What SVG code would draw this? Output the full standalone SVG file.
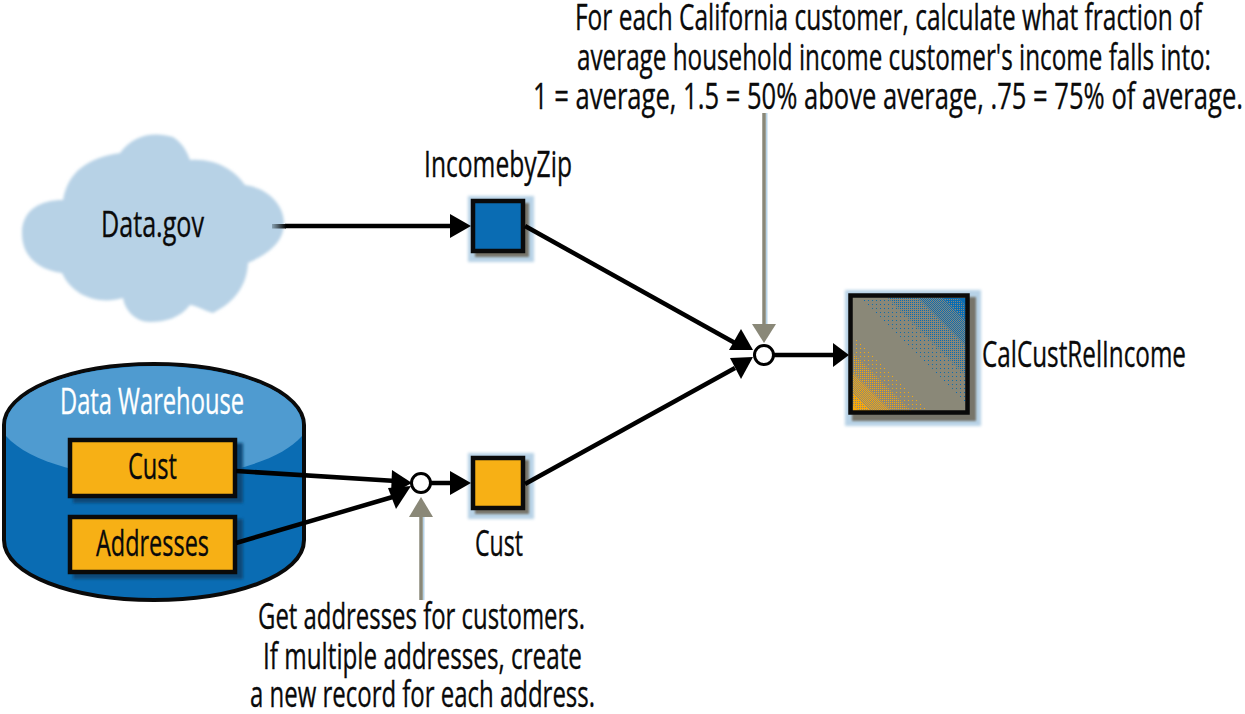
<svg xmlns="http://www.w3.org/2000/svg" width="1245" height="714" viewBox="0 0 1245 714">
<style>
text{font-family:"Open Sans","Noto Sans","Liberation Sans",sans-serif;font-size:36px;fill:#0a0a0a;stroke:#0a0a0a;stroke-width:.35px}
.c{stroke:#000;stroke-width:4.500;fill:none}
.g{stroke:#8a8878;stroke-width:3.500;fill:none}
.gb{stroke:#b7d2e6;stroke-width:2;fill:none}
.h{fill:#000}.gh{fill:#8a8878}
.box{stroke:#0a0a0a;stroke-width:4.500}
.halo{fill:#b7d2e6;filter:url(#b)}
.sh{fill:#77756a;filter:url(#b1)}
.o{fill:#f7b015}
.j{fill:#fff;stroke:#000;stroke-width:3}
</style>
<defs>
<filter id="b" x="-30%" y="-30%" width="160%" height="160%"><feGaussianBlur stdDeviation="1.500"/></filter>
<filter id="b1" x="-30%" y="-30%" width="160%" height="160%"><feGaussianBlur stdDeviation="1.2"/></filter>
<linearGradient id="fade" gradientUnits="userSpaceOnUse" x1="272" x2="286" y1="226" y2="226"><stop offset="0" stop-color="#8aa4b4"/><stop offset="1" stop-color="#000"/></linearGradient>
<linearGradient id="two" x1="0" y1="1" x2="1" y2="0"><stop offset=".5" stop-color="#f7a80c"/><stop offset=".5" stop-color="#0a6cb3"/></linearGradient>
<pattern id="d1" width="4" height="4" patternUnits="userSpaceOnUse"><rect width="1" height="1" fill="#fff"/></pattern>
<pattern id="d2" width="2" height="2" patternUnits="userSpaceOnUse"><rect width="1" height="1" fill="#fff"/></pattern>
<pattern id="d3" width="2" height="2" patternUnits="userSpaceOnUse"><rect width="1" height="1" fill="#fff"/><rect x="1" y="1" width="1" height="1" fill="#fff"/></pattern>
<pattern id="d4" width="2" height="2" patternUnits="userSpaceOnUse"><rect width="2" height="1" fill="#fff"/><rect y="1" width="1" height="1" fill="#fff"/></pattern>
<mask id="dith" maskUnits="userSpaceOnUse" x="848" y="293" width="124" height="124">
<polygon fill="url(#d1)" points="860,298 888,298 967,377 967,405"/>
<polygon fill="url(#d2)" points="888,298 918,298 967,347 967,377"/>
<polygon fill="url(#d3)" points="918,298 943,298 967,322 967,347"/>
<polygon fill="url(#d4)" points="943,298 958,298 967,307 967,322"/>
<polygon fill="#fff" points="958,298 967,298 967,307"/>
<polygon fill="url(#d1)" points="853,335 853,353 912,412 930,412"/>
<polygon fill="url(#d2)" points="853,353 853,373 892,412 912,412"/>
<polygon fill="url(#d3)" points="853,373 853,393 872,412 892,412"/>
<polygon fill="url(#d4)" points="853,393 853,405 860,412 872,412"/>
<polygon fill="#fff" points="853,405 853,412 860,412"/>
</mask>
</defs>
<g id="cloud">
<path filter="url(#b)" d="M22,233C22,210 40,200 63,200C68,172 87,158 120,153C133,135 153,131 173,137C185,145 188,155 190,160C215,158 235,170 245,185C268,188 284,205 284,223C284,245 263,256 248,263C247,285 235,302 213,313C205,311 195,305 190,305C180,318 165,322 150,322C135,322 125,310 123,298C100,305 73,297 62,273C40,270 22,258 22,233Z" fill="#b7d2e6"/>
<text x="101" y="237" textLength="103" lengthAdjust="spacingAndGlyphs">Data.gov</text>
</g>
<g id="warehouse">
<path d="M4,425A150,61 0 0 1 304,425V540C304,575 235,600 154,600C73,600 4,575 4,540Z" fill="#0a6cb3" stroke="#0a0a0a" stroke-width="4"/>
<path d="M6,436C30,463 90,478 154,478C218,478 278,463 302,436V425A148,59 0 0 0 6,425Z" fill="#4f9bd0"/>
<text x="60" y="414" textLength="184" lengthAdjust="spacingAndGlyphs" style="fill:#fff;stroke:#fff">Data Warehouse</text>
</g>
<g id="cust-table">
<rect x="73" y="443" width="170" height="60" fill="#0a4a78" filter="url(#b)"/>
<rect class="o box" x="70" y="440" width="165" height="56"/>
<text x="128" y="479" textLength="49" lengthAdjust="spacingAndGlyphs">Cust</text>
</g>
<g id="addresses-table">
<rect x="73" y="519" width="170" height="60" fill="#0a4a78" filter="url(#b)"/>
<rect class="o box" x="70" y="517" width="165" height="55"/>
<text x="96" y="556" textLength="113" lengthAdjust="spacingAndGlyphs">Addresses</text>
</g>
<g id="incomebyzip">
<rect class="halo" x="468" y="196" width="66" height="66"/>
<rect class="sh" x="475" y="203" width="54" height="54"/>
<rect class="box" x="473" y="201" width="50" height="50" fill="#0a6cb3"/>
<text x="424" y="177" textLength="148" lengthAdjust="spacingAndGlyphs">IncomebyZip</text>
</g>
<g id="cust">
<rect class="halo" x="468" y="453" width="66" height="66"/>
<rect class="sh" x="475" y="460" width="54" height="54"/>
<rect class="box o" x="473" y="458" width="50" height="50"/>
<text x="475" y="556" textLength="48" lengthAdjust="spacingAndGlyphs">Cust</text>
</g>
<g id="calcustrelincome">
<rect class="halo" x="845" y="290" width="136" height="136"/>
<rect class="sh" x="852" y="297" width="124" height="124"/>
<rect x="850" y="295" width="119" height="119" fill="#8a8878"/>
<rect x="850" y="295" width="119" height="119" fill="url(#two)" mask="url(#dith)"/>
<rect class="box" x="850.500" y="295.500" width="117" height="117" fill="none"/>
<text x="982" y="367" textLength="204" lengthAdjust="spacingAndGlyphs">CalCustRelIncome</text>
</g>
<g id="connectors">
<path d="M285,226H452" class="c"/>
<rect x="272" y="224" width="14" height="4.500" fill="url(#fade)"/>
<polygon class="h" points="450,214 471,226 450,238"/>
<path d="M525,226L735,343" class="c"/>
<polygon class="h" points="741,329 753,350 729,350"/>
<path d="M525,484L735,368" class="c"/>
<polygon class="h" points="730,358 753,357 741,379"/>
<path d="M773,355H836" class="c"/>
<polygon class="h" points="833,343 849,355 833,367"/>
<path d="M236,471L396,481" class="c"/>
<polygon class="h" points="392,470 412,483 391,494"/>
<path d="M236,543L396,496" class="c"/>
<polygon class="h" points="388,488 411,486 396,509"/>
<path d="M431,483H452" class="c"/>
<polygon class="h" points="450,471 471,483 450,495"/>
<path d="M766.500,113V326" class="gb"/>
<path d="M764,113V326" class="g"/>
<polygon class="gh" points="752,324 776,324 764,343"/>
<path d="M423.500,600V515" class="gb"/>
<path d="M421,600V515" class="g"/>
<polygon class="gh" points="409,517 433,517 421,497"/>
<circle class="j" cx="764" cy="355" r="9.500"/>
<circle class="j" cx="421" cy="483" r="9.500"/>
</g>
<g id="notes">
<text x="575" y="30" textLength="627" lengthAdjust="spacingAndGlyphs">For each California customer, calculate what fraction of</text>
<text x="577" y="70" textLength="634" lengthAdjust="spacingAndGlyphs">average household income customer's income falls into:</text>
<text x="533" y="109" textLength="710" lengthAdjust="spacingAndGlyphs">1 = average, 1.5 = 50% above average, .75 = 75% of average.</text>
<text x="258" y="629" textLength="327" lengthAdjust="spacingAndGlyphs">Get addresses for customers.</text>
<text x="263" y="669" textLength="319" lengthAdjust="spacingAndGlyphs">If multiple addresses, create</text>
<text x="250" y="707" textLength="345" lengthAdjust="spacingAndGlyphs">a new record for each address.</text>
</g>
</svg>
